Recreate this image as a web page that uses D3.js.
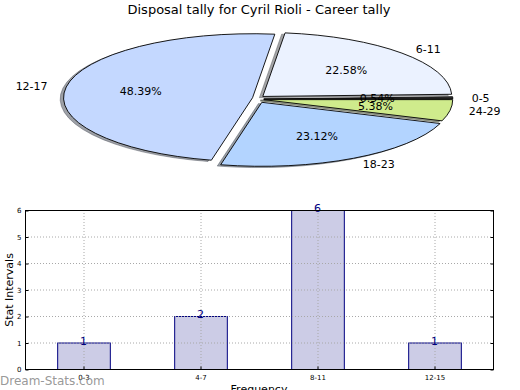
<!DOCTYPE html>
<html><head><meta charset="utf-8">
<script src="https://cdn.jsdelivr.net/npm/d3@7"></script>
<style>body{margin:0;background:#fff}svg{display:block;font-family:"DejaVu Sans",sans-serif}</style>
</head><body>
<script>
const title = "Disposal tally for Cyril Rioli - Career tally";
const pieLabels = ["0-5", "6-11", "12-17", "18-23", "24-29"];
const pieValues = [1, 42, 90, 43, 10];
const pieColors = ["#3a3a3a", "#ebf2ff", "#c4d8ff", "#b3d4ff", "#cfeb8c"];
const pieExplode = [0.02, 0.02, 0.04, 0.02, 0.02];

const barCategories = ["0-3", "4-7", "8-11", "12-15"];
const barValues = [1, 2, 6, 1];
const yTicks = [0, 1, 2, 3, 4, 5, 6];

const W = 520, H = 390;
const svg = d3.select("body").append("svg").attr("width", W).attr("height", H);

svg.append("text").attr("x", 259).attr("y", 14).attr("text-anchor", "middle")
  .attr("font-size", 13).attr("fill", "#000").text(title);

// ---- Pie (squeezed ellipse) ----
const cx = 260, cy = 99, rx = 189, ry = 64;
const total = d3.sum(pieValues);
const arcs = d3.pie().sort(null).startAngle(0).endAngle(2 * Math.PI)(pieValues);
const sx = d3.scaleLinear().domain([-1, 1]).range([cx - rx, cx + rx]);
const sy = d3.scaleLinear().domain([-1, 1]).range([cy + ry, cy - ry]);

function wedgePath(a0, a1, ox, oy) {
  const p = d3.path();
  const X = v => sx(v + ox), Y = v => sy(v + oy);
  p.moveTo(X(0), Y(0));
  p.lineTo(X(Math.cos(a0)), Y(Math.sin(a0)));
  const large = (a1 - a0) > Math.PI ? 1 : 0;
  return p.toString() + ` A ${rx} ${ry} 0 ${large} 0 ${X(Math.cos(a1))} ${Y(Math.sin(a1))} Z`;
}
function offs(i) {
  const a = arcs[i];
  const m = (a.startAngle + a.endAngle) / 2;
  const e = pieExplode[i];
  return [e * Math.cos(m), e * Math.sin(m) * rx / ry, m];
}
const pieG = svg.append("g");
// shadows
arcs.forEach((a, i) => {
  const [ox, oy] = offs(i);
  const c = d3.rgb(pieColors[i]);
  const dark = d3.rgb(c.r * 0.3, c.g * 0.3, c.b * 0.3);
  pieG.append("path").attr("d", wedgePath(a.startAngle, a.endAngle, ox - 0.018, oy - 0.02))
    .attr("fill", dark).attr("fill-opacity", 0.5)
    .attr("stroke", dark).attr("stroke-opacity", 0.4).attr("stroke-width", 1);
});
arcs.forEach((a, i) => {
  const [ox, oy] = offs(i);
  pieG.append("path").attr("d", wedgePath(a.startAngle, a.endAngle, ox, oy))
    .attr("fill", pieColors[i]).attr("stroke", "#000").attr("stroke-width", 0.9);
});
arcs.forEach((a, i) => {
  const [ox, oy, m] = offs(i);
  const lx = sx(ox + 1.1 * Math.cos(m)), ly = sy(oy + 1.1 * Math.sin(m));
  pieG.append("text").attr("x", lx).attr("y", ly).attr("dy", "0.35em")
    .attr("text-anchor", Math.cos(m) < 0 ? "end" : "start")
    .attr("font-size", 11).attr("fill", "#000").text(pieLabels[i]);
  const px = sx(ox + 0.6 * Math.cos(m)), py = sy(oy + 0.6 * Math.sin(m));
  pieG.append("text").attr("x", px).attr("y", py).attr("dy", "0.35em")
    .attr("text-anchor", "middle").attr("font-size", 11).attr("fill", "#000")
    .text((pieValues[i] / total * 100).toFixed(2) + "%");
});

// ---- Bar chart ----
const L = 25, R = 493, T = 210, B = 369;
const x = d3.scaleBand().domain(barCategories).range([L, R]).paddingInner(0.55).paddingOuter(0.275);
const y = d3.scaleLinear().domain([0, 6]).range([B, T]);
const bg = svg.append("g");
// bars
bg.selectAll(".bar").data(barValues).join("rect")
  .attr("x", (d, i) => x(barCategories[i]) + 0.5).attr("y", d => y(d) + 0.5)
  .attr("width", x.bandwidth()).attr("height", d => B - y(d))
  .attr("fill", "#ccccE6").attr("stroke", "#000080").attr("stroke-width", 1);
// grid (drawn above bars)
bg.selectAll(".gx").data(barCategories).join("line")
  .attr("x1", d => x(d) + x.bandwidth() / 2 + 0.5).attr("x2", d => x(d) + x.bandwidth() / 2 + 0.5)
  .attr("y1", T).attr("y2", B)
  .attr("stroke", "#a8a8a8").attr("stroke-width", 1).attr("stroke-dasharray", "1,2");
bg.selectAll(".gy").data(yTicks).join("line")
  .attr("x1", L).attr("x2", R).attr("y1", d => y(d) + 0.5).attr("y2", d => y(d) + 0.5)
  .attr("stroke", "#a8a8a8").attr("stroke-width", 1).attr("stroke-dasharray", "1,2");
// value labels
bg.selectAll(".vl").data(barValues).join("text")
  .attr("x", (d, i) => x(barCategories[i]) + x.bandwidth() / 2).attr("y", d => y(d) + 2)
  .attr("text-anchor", "middle").attr("font-size", 11).attr("fill", "#000080").text(d => d);
// frame
bg.append("rect").attr("x", L + 0.5).attr("y", T + 0.5).attr("width", R - L).attr("height", B - T)
  .attr("fill", "none").attr("stroke", "#000").attr("stroke-width", 1);
// axes
const yAx = bg.append("g").attr("transform", `translate(${L + 0.5},0.5)`)
  .call(d3.axisLeft(y).tickValues(yTicks).tickSize(-3).tickPadding(4).tickFormat(d3.format("d")));
const yAxR = bg.append("g").attr("transform", `translate(${R + 0.5},0.5)`)
  .call(d3.axisRight(y).tickValues(yTicks).tickSize(-3).tickFormat(""));
const xAx = bg.append("g").attr("transform", `translate(0.5,${B + 0.5})`)
  .call(d3.axisBottom(x).tickSize(-3).tickPadding(6));
[yAx, yAxR, xAx].forEach(g => {
  g.select(".domain").remove();
  g.selectAll("line").attr("stroke", "#000");
  g.selectAll("text").attr("font-size", 7).attr("fill", "#000").attr("font-family", "DejaVu Sans");
});
svg.append("text").attr("transform", "translate(13,290) rotate(-90)").attr("text-anchor", "middle")
  .attr("font-size", 11).attr("fill", "#000").text("Stat Intervals");
svg.append("text").attr("x", 259).attr("y", 393).attr("text-anchor", "middle")
  .attr("font-size", 11).attr("fill", "#000").text("Frequency");
svg.append("text").attr("x", 0).attr("y", 385).attr("font-size", 12)
  .attr("fill", "#8c8c8c").attr("fill-opacity", 0.9).text("Dream-Stats.com");
</script>
</body></html>
